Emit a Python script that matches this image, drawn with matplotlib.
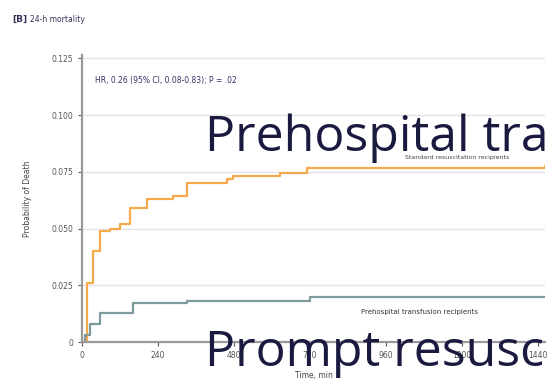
import matplotlib
matplotlib.use("Agg")
import matplotlib.pyplot as plt

# Cumulative incidence of death over the first 24 h (minutes)
standard_t = [0, 16, 35, 57, 88, 120, 152, 205, 287, 332, 458, 477, 625, 711, 1462]
standard_p = [0, 0.026, 0.040, 0.049, 0.050, 0.052, 0.059, 0.063, 0.0645, 0.070, 0.072, 0.073, 0.0745, 0.0768, 0.0776]

transfusion_t = [0, 10, 25, 57, 120, 160, 300, 330, 700, 720, 1462]
transfusion_p = [0, 0.003, 0.008, 0.0127, 0.013, 0.017, 0.017, 0.018, 0.018, 0.020, 0.020]

x_ticks = [0, 240, 480, 720, 960, 1200, 1440]
y_ticks = [0, 0.025, 0.050, 0.075, 0.100, 0.125]
y_labels = ["0", "0.025", "0.050", "0.075", "0.100", "0.125"]

W, H = 547, 386
fig = plt.figure(figsize=(W / 100, H / 100), dpi=100)
ax = fig.add_axes([82 / W, (H - 342) / H, (545 - 82) / W, (342 - 55) / H])

ax.plot(standard_t, standard_p, drawstyle="steps-post", color="#f5a94a", lw=1.6)
ax.plot(transfusion_t, transfusion_p, drawstyle="steps-post", color="#7f9a9c", lw=1.6)

ax.set_xlim(0, 1462)
ax.set_ylim(0, 0.1265)
ax.set_xticks(x_ticks)
ax.set_yticks(y_ticks)
ax.set_yticklabels(y_labels)
ax.tick_params(labelsize=5.5, colors="#555555", length=3, width=0.8)
ax.grid(axis="y", color="#e4e4e4", lw=1)
ax.set_axisbelow(True)
for s in ("top", "right"):
    ax.spines[s].set_visible(False)
for s in ("left", "bottom"):
    ax.spines[s].set_color("#9a9a9a")
    ax.spines[s].set_linewidth(1.6)

ax.set_ylabel("Probability of Death", fontsize=5.5, color="#444444", labelpad=14)
ax.set_xlabel("Time, min", fontsize=5.5, color="#444444", labelpad=8)

ax.text(40, 0.114, "HR, 0.26 (95% CI, 0.08-0.83); P = .02", fontsize=5.5, color="#333366")
ax.text(1020, 0.0805, "Standard resuscitation recipients", fontsize=4.5, color="#444444")
ax.text(880, 0.0125, "Prehospital transfusion recipients", fontsize=5, color="#333344")

fig.text(12 / W, 1 - 22 / H, "[B]", fontsize=6.5, color="#333355", fontweight="bold")
fig.text(30 / W, 1 - 22 / H, "24-h mortality", fontsize=5.5, color="#333355")

big = dict(fontsize=36, color="#1a1a40", family="Open Sans", va="baseline")
fig.text(205 / W, 1 - 151 / H, "Prehospital transfusion", **big)
fig.text(205 / W, 1 - 366 / H, "Prompt resuscitation", **big)

fig.savefig("out.png", dpi=100)
